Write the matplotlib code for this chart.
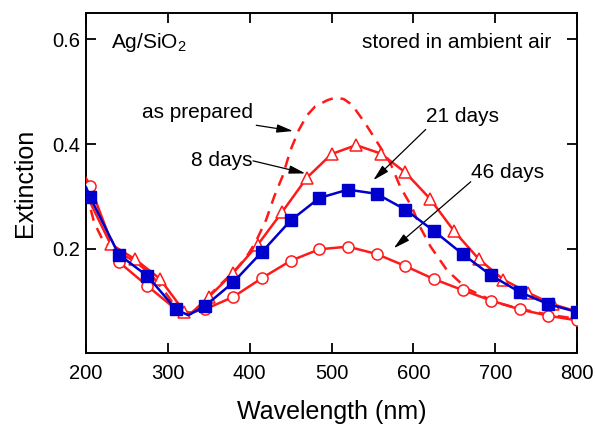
import numpy as np
import matplotlib
matplotlib.use('Agg')
import matplotlib.pyplot as plt

plt.rcParams['font.family'] = ['Liberation Sans', 'DejaVu Sans']
plt.rcParams['mathtext.fontset'] = 'custom'
plt.rcParams['mathtext.rm'] = 'Liberation Sans'
plt.rcParams['mathtext.it'] = 'Liberation Sans:italic'

# ── data ────────────────────────────────────────────────────────────────────
# as prepared (dashed, no markers)
wl_prep  = [200, 210, 220, 230, 245, 260, 280, 300, 310, 320, 330, 340, 350,
            365, 380, 395, 407, 420, 430, 440, 450, 460, 470, 480, 495, 505,
            515, 525, 541, 558, 572, 584, 598, 609, 621, 641, 665, 700, 730,
            765, 800]
ext_prep = [0.310, 0.250, 0.218, 0.203, 0.188, 0.176, 0.150, 0.110, 0.088,
            0.077, 0.078, 0.090, 0.110, 0.133, 0.155, 0.182, 0.212, 0.255,
            0.300, 0.338, 0.389, 0.427, 0.455, 0.472, 0.484, 0.489, 0.486,
            0.475, 0.440, 0.398, 0.363, 0.318, 0.280, 0.239, 0.204, 0.159,
            0.124, 0.098, 0.085, 0.074, 0.066]

# 8 days (open triangles)
wl_8  = [200, 230, 260, 290, 320, 350, 380, 410, 440, 470, 500, 530, 560,
         590, 620, 650, 680, 710, 740, 770, 800]
ext_8 = [0.305, 0.209, 0.180, 0.143, 0.080, 0.108, 0.154, 0.208, 0.271,
         0.336, 0.381, 0.398, 0.382, 0.346, 0.296, 0.233, 0.180, 0.141,
         0.116, 0.094, 0.080]
wl_8_extra  = [328]
ext_8_extra = [0.076]

# 21 days (filled squares)
wl_21  = [205, 240, 275, 310, 345, 380, 415, 450, 485, 520, 555, 590, 625,
          660, 695, 730, 765, 800]
ext_21 = [0.299, 0.189, 0.148, 0.084, 0.090, 0.136, 0.194, 0.254, 0.297,
          0.313, 0.305, 0.275, 0.234, 0.190, 0.149, 0.117, 0.094, 0.079]
wl_21_extra  = [200, 325]
ext_21_extra = [0.318, 0.073]

# 46 days (open circles)
wl_46  = [205, 240, 275, 310, 345, 380, 415, 450, 485, 520, 555, 590, 625,
          660, 695, 730, 765, 800]
ext_46 = [0.320, 0.175, 0.129, 0.084, 0.084, 0.108, 0.144, 0.177, 0.199,
          0.204, 0.190, 0.167, 0.142, 0.121, 0.101, 0.084, 0.072, 0.063]
wl_46_extra  = [200, 327]
ext_46_extra = [0.335, 0.078]

RED  = '#ff1a1a'
BLUE = '#0000cc'


def line_pts(wl, ext, wl_x, ext_x):
    w = np.concatenate([wl, wl_x])
    e = np.concatenate([ext, ext_x])
    order = np.argsort(w)
    return w[order], e[order]


# ── figure ──────────────────────────────────────────────────────────────────
fig = plt.figure(figsize=(5.95, 4.25), dpi=100)
ax = fig.add_axes([0.1445, 0.1685, 0.8255, 0.8002])

ax.plot(wl_prep, ext_prep, color=RED, lw=1.8, ls=(0, (4.5, 3.2)), zorder=2)

x, y = line_pts(wl_8, ext_8, wl_8_extra, ext_8_extra)
ax.plot(x, y, color=RED, lw=1.8, zorder=3)
ax.plot(wl_8, ext_8, ls='none', marker='^', ms=9, mfc='white', mec=RED,
        mew=1.1, zorder=4)

x, y = line_pts(wl_46, ext_46, wl_46_extra, ext_46_extra)
ax.plot(x, y, color=RED, lw=1.8, zorder=3)
ax.plot(wl_46, ext_46, ls='none', marker='o', ms=8, mfc='white', mec=RED,
        mew=1.1, zorder=4)

x, y = line_pts(wl_21, ext_21, wl_21_extra, ext_21_extra)
ax.plot(x, y, color=BLUE, lw=1.8, zorder=5)
ax.plot(wl_21, ext_21, ls='none', marker='s', ms=8, mfc=BLUE, mec=BLUE,
        zorder=6)

# ── annotations ─────────────────────────────────────────────────────────────
arrow = dict(arrowstyle='-|>,head_length=0.7,head_width=0.18', color='k',
             lw=0.9, shrinkA=0, shrinkB=0, mutation_scale=14)
ax.annotate('', xy=(453, 0.425), xytext=(408, 0.436), arrowprops=arrow)
ax.annotate('', xy=(468, 0.344), xytext=(404, 0.368), arrowprops=arrow)
ax.annotate('', xy=(551, 0.331), xytext=(615, 0.428), arrowprops=arrow)
ax.annotate('', xy=(576, 0.201), xytext=(670, 0.328), arrowprops=arrow)

ax.text(268, 0.460, 'as prepared', fontsize=15, va='center', ha='left')
ax.text(328, 0.369, '8 days', fontsize=15, va='center', ha='left')
ax.text(615, 0.452, '21 days', fontsize=15, va='center', ha='left')
ax.text(670, 0.346, '46 days', fontsize=15, va='center', ha='left')

ax.text(0.05, 0.913, 'Ag/SiO$_2$', transform=ax.transAxes, fontsize=15,
        va='center', ha='left')
ax.text(0.948, 0.913, 'stored in ambient air', transform=ax.transAxes,
        fontsize=15, va='center', ha='right')

# ── axes formatting ─────────────────────────────────────────────────────────
ax.set_xlim(200, 800)
ax.set_ylim(0, 0.65)
ax.set_xticks(range(200, 801, 100))
ax.set_yticks([0.2, 0.4, 0.6])
ax.set_yticklabels(['0.2', '0.4', '0.6'])
ax.tick_params(which='both', direction='in', top=True, right=True,
               length=7, width=1.3, labelsize=14.5)
ax.tick_params(axis='x', pad=8)
ax.tick_params(axis='y', pad=4)
for s in ax.spines.values():
    s.set_linewidth(1.4)

ax.set_xlabel('Wavelength (nm)', fontsize=18, labelpad=12)
ax.set_ylabel('Extinction', fontsize=18, labelpad=11)

fig.savefig('out.png', dpi=100)
